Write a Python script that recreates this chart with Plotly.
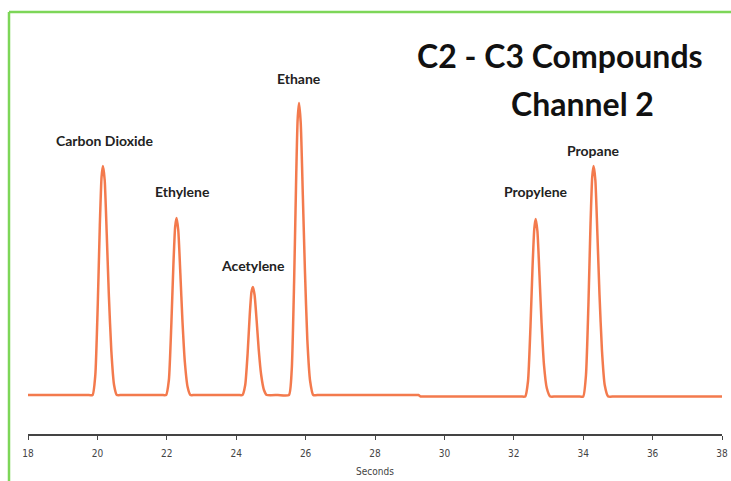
import plotly.graph_objects as go

# Chromatogram trace (seconds, signal)
time_s = [
    18.00, 19.70, 19.86, 19.94, 20.01, 20.07, 20.12, 20.16, 20.21, 20.27, 20.33, 20.40, 20.48, 20.56, 20.70,
    21.85, 21.98, 22.06, 22.13, 22.19, 22.24, 22.28, 22.33, 22.39, 22.45, 22.52, 22.60, 22.68, 22.80,
    24.06, 24.18, 24.26, 24.33, 24.39, 24.44, 24.48, 24.53, 24.59, 24.65, 24.72, 24.80, 24.88,
    25.20, 25.52, 25.60, 25.67, 25.73, 25.77, 25.81, 25.86, 25.92, 25.98, 26.05, 26.13, 26.22, 26.40,
    29.20, 29.25, 29.32, 29.40,
    32.20, 32.33, 32.41, 32.48, 32.54, 32.59, 32.63, 32.68, 32.74, 32.80, 32.87, 32.95, 33.05, 33.20,
    33.85, 34.00, 34.08, 34.15, 34.21, 34.26, 34.30, 34.35, 34.41, 34.47, 34.54, 34.62, 34.72, 34.90,
    37.90, 38.00,
]
signal = [
    0, 0, 0, 20, 90, 170, 218, 229, 215, 160, 100, 45, 10, 0, 0,
    0, 0, 15, 70, 130, 168, 177, 165, 122, 75, 33, 8, 0, 0,
    0, 0, 10, 42, 80, 103, 108, 100, 74, 45, 20, 5, 0,
    0, 0, 25, 115, 220, 275, 292, 272, 200, 125, 55, 14, 0, 0,
    0, 0, -1.5, -1.5,
    -1.5, -1.5, 14, 68, 128, 166, 176, 164, 120, 72, 30, 7, -1.5, -1.5,
    -1.5, -1.5, 20, 90, 170, 218, 229, 215, 160, 100, 45, 10, -1.5, -1.5,
    -1.5, -1.5,
]

compounds = ["Carbon Dioxide", "Ethylene", "Acetylene", "Ethane", "Propylene", "Propane"]
retention_s = [20.16, 22.28, 24.48, 25.81, 32.63, 34.30]
peak_height = [229, 177, 108, 292, 176, 229]

tick_values = [18, 20, 22, 24, 26, 28, 30, 32, 34, 36, 38]

title_lines = ["C2 - C3 Compounds", "Channel 2"]
x_title = "Seconds"

fig = go.Figure()
fig.add_trace(go.Scatter(
    x=time_s, y=signal, mode="lines",
    line=dict(color="rgba(242,108,58,0.9)", width=2.5, shape="spline", smoothing=0.5),
    hoverinfo="skip", showlegend=False, cliponaxis=False,
))

label_font = dict(family="Lato, DejaVu Sans Condensed, sans-serif", size=14, color="#222222", weight="bold")
label_dx = [2, 6, 0, 0, 0, 0]
label_dy = [26, 27, 22, 25, 28, 16]
for name, t, h, dx, dy in zip(compounds, retention_s, peak_height, label_dx, label_dy):
    fig.add_annotation(x=t, y=h, text=name, showarrow=False, xshift=dx, yshift=dy,
                       yanchor="middle", font=label_font)

title_font = dict(family="Lato, DejaVu Sans Condensed, sans-serif", size=32, color="#111111", weight="bold")
fig.add_annotation(xref="paper", yref="paper", x=(560 - 28) / 694, y=(434 - 55) / 414,
                   text=title_lines[0], showarrow=False, xanchor="center", yanchor="middle",
                   font=title_font)
fig.add_annotation(xref="paper", yref="paper", x=(582 - 28) / 694, y=(434 - 103) / 414,
                   text=title_lines[1], showarrow=False, xanchor="center", yanchor="middle",
                   font=title_font)

# green frame (left and top edges)
green = "rgb(125,214,88)"
fig.add_shape(type="line", xref="paper", yref="paper",
              x0=(9 - 28) / 694, x1=(9 - 28) / 694, y0=(434 - 490) / 414, y1=(434 - 12) / 414,
              line=dict(color=green, width=2.5))
fig.add_shape(type="line", xref="paper", yref="paper",
              x0=(9 - 28) / 694, x1=(740 - 28) / 694, y0=(434 - 12) / 414, y1=(434 - 12) / 414,
              line=dict(color=green, width=2.5))

tick_font = dict(family="Liberation Sans Narrow, DejaVu Sans Condensed, sans-serif", size=10, color="#444444")
fig.update_xaxes(
    range=[18, 38], tickvals=tick_values, ticktext=[str(v) for v in tick_values],
    showgrid=False, zeroline=False, showline=True, linecolor="#444444", linewidth=1.5,
    ticks="outside", ticklen=4, tickwidth=1, tickcolor="#444444",
    tickfont=tick_font, ticklabelstandoff=5, automargin=False,
    title=dict(text=x_title, font=tick_font, standoff=10),
)
fig.update_yaxes(range=[-39, 375], visible=False, showgrid=False, zeroline=False, automargin=False)

fig.update_layout(
    width=731, height=481,
    margin=dict(l=28, r=9, t=20, b=47, pad=0, autoexpand=False),
    paper_bgcolor="white", plot_bgcolor="white",
)

fig.write_html("out.html", config={"displayModeBar": False, "staticPlot": True},
               post_script="document.body.style.margin='0px';document.body.style.overflow='hidden';")
